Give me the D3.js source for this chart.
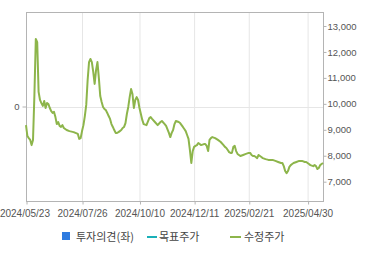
<!DOCTYPE html>
<html>
<head>
<meta charset="utf-8">
<script src="https://cdn.jsdelivr.net/npm/d3@7"></script>
<style>
  body{margin:0;background:#fff;}
  svg{display:block;font-family:"Liberation Sans",Arial,sans-serif;}
</style>
</head>
<body>
<script>
// trading day index (0 = 2024/05/23) and adjusted close (수정주가)
const dayIdx = [0,1,2,3,4,5,6,7,8,9,10,11,12,13,14,15,16,17,18,19,20,21,22,23,24,25,26,27,29,31,34,37,38,39,40,41,42,43,44,45,46,47,48,49,50,51,52,53,54,55,56,57,58,59,60,61,62,63,64,65,66,67,68,69,70,71,72,73,74,75,76,77,78,79,80,81,82,83,84,86,88,89,90,92,94,96,97,99,100,102,103,104,105,106,107,109,110,112,113,114,115,116,117,118,119,120,121,122,123,125,127,128,129,130,131,132,133,135,137,139,141,142,143,144,145,146,147,148,149,150,151,152,153,155,157,159,160,161,162,163,164,165,166,167,168,169,171,173,176,178,180,182,183,184,185,186,187,188,189,190,191,193,195,197,199,200,201,202,203,205,206,207,208,209,210,211,212];
const price = [9180,8760,8680,8610,8410,8610,10340,12500,12380,10460,10150,10030,9920,10110,9840,10030,9990,9840,9720,9650,9690,9490,9220,9300,9150,9110,9180,9070,8990,8950,8910,8840,8650,8680,8950,9180,9530,9960,10920,11610,11730,11610,11230,10770,11300,11610,11000,10300,10070,9880,9800,9760,9650,9530,9420,9220,9110,8990,8880,8880,8910,8950,8990,9070,9110,9260,9610,9880,10260,10570,10380,9840,10150,10260,10150,9840,9610,9380,9220,9180,9450,9490,9420,9300,9180,9300,9340,9220,9150,8880,8720,8880,8990,9220,9340,9300,9260,9110,9030,8950,8800,8650,8220,7720,8180,8340,8380,8410,8490,8410,8450,8450,8380,8180,8610,8680,8720,8680,8610,8530,8410,8340,8300,8220,8140,8110,8110,8340,8380,8180,8070,8030,7990,8030,8070,8110,8110,8030,7990,7990,7950,7910,8030,7990,7950,7910,7870,7840,7840,7800,7760,7720,7720,7600,7410,7330,7410,7570,7640,7680,7720,7760,7800,7800,7760,7760,7720,7680,7640,7600,7640,7600,7490,7530,7640,7680,7720];

const xTickIdx = [0,40,81,120,159,201];
const xTickLabels = ['2024/05/23','2024/07/26','2024/10/10','2024/12/11','2025/02/21','2025/04/30'];
const yTicks = [7000,8000,9000,10000,11000,12000,13000];
const legendNames = ['투자의견(좌)','목표주가','수정주가'];

const W = 370, H = 255;
const L = 26, R = 323, T = 12, B = 201;
const green = '#8db54b', teal = '#1ab0b8', blue = '#2e7be0';

const svg = d3.select('body').append('svg').attr('width',W).attr('height',H);

const x = d3.scaleLinear().domain([0,212]).range([L,R]);
const y = d3.scaleLinear().domain([6256,13540]).range([B,T]);
const yL = d3.scaleLinear().domain([-1,1]).range([B,T]);

// grid
svg.append('g').selectAll('line').data(xTickIdx.slice(1)).enter().append('line')
  .attr('x1',d=>x(d)+0.5).attr('x2',d=>x(d)+0.5).attr('y1',T).attr('y2',B)
  .attr('stroke','#e6e6e6');
svg.append('line').attr('x1',L).attr('x2',R).attr('y1',Math.round(yL(0))+0.5).attr('y2',Math.round(yL(0))+0.5)
  .attr('stroke','#e6e6e6');

// frame
svg.append('rect').attr('x',L+0.5).attr('y',T+0.5).attr('width',R-L).attr('height',B-T)
  .attr('fill','none').attr('stroke','#b4b4b4');

// x axis
const xa = svg.append('g').attr('transform','translate(0,'+(B+0.5)+')')
  .call(d3.axisBottom(x).tickValues(xTickIdx).tickSize(3).tickFormat((d,i)=>xTickLabels[i]));
xa.select('.domain').remove();
xa.selectAll('line').attr('stroke','#b4b4b4').attr('transform','translate(0.5,0)');
xa.selectAll('text').attr('fill','#555').style('font-size','10px').attr('dy','0.95em');
xa.selectAll('.tick').filter((d,i)=>i==0).select('text').attr('text-anchor','end').attr('dx','23.5');

// right axis
const ya = svg.append('g').attr('transform','translate('+(R+0.5)+',0)')
  .call(d3.axisRight(y).tickValues(yTicks).tickSize(3).tickFormat(d3.format(',')));
ya.select('.domain').remove();
ya.selectAll('line').attr('stroke','#b4b4b4');
ya.selectAll('text').attr('fill','#555').style('font-size','9.5px').attr('x',4);

// left axis (investment opinion)
const la = svg.append('g').attr('transform','translate('+(L+0.5)+',0)')
  .call(d3.axisLeft(yL).tickValues([0]).tickSize(4).tickFormat(d3.format('d')));
la.select('.domain').remove();
la.selectAll('line').attr('stroke','#b4b4b4');
la.selectAll('text').attr('fill','#555').style('font-size','9.5px').attr('x',-7);

// price line
const pts = dayIdx.map((d,i)=>[d,price[i]]);
svg.append('path').datum(pts)
  .attr('d',d3.line().x(d=>x(d[0])).y(d=>y(d[1])))
  .attr('fill','none').attr('stroke',green).attr('stroke-width',2)
  .attr('stroke-linejoin','round');

// legend
const lg = svg.append('g').style('font-family','"Noto Sans CJK KR","Noto Sans",sans-serif').style('font-size','11px');
lg.append('rect').attr('x',62).attr('y',232).attr('width',8).attr('height',8).attr('fill',blue);
lg.append('text').attr('x',76).attr('y',240.5).attr('fill','#444').text(legendNames[0]);
lg.append('line').attr('x1',147).attr('x2',157).attr('y1',237).attr('y2',237).attr('stroke',teal).attr('stroke-width',2);
lg.append('text').attr('x',159).attr('y',240.5).attr('fill','#444').text(legendNames[1]);
lg.append('line').attr('x1',230).attr('x2',241).attr('y1',237).attr('y2',237).attr('stroke',green).attr('stroke-width',2);
lg.append('text').attr('x',244).attr('y',240.5).attr('fill','#444').text(legendNames[2]);
</script>
</body>
</html>
